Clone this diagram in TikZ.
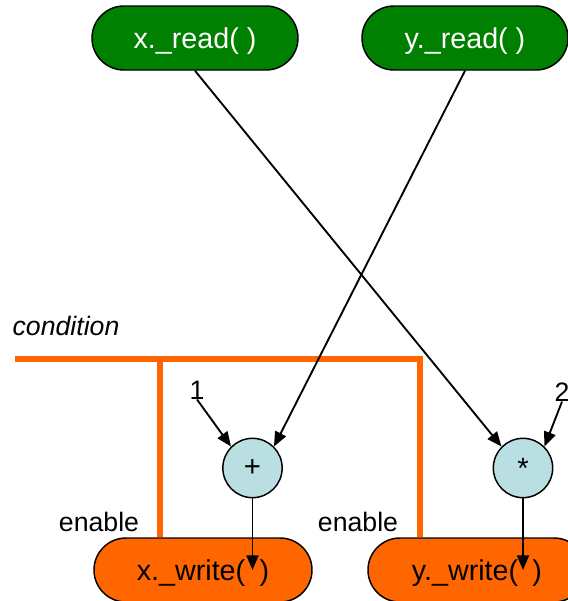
\documentclass[tikz,border=0pt]{standalone}
\usepackage{fontspec}
\setmainfont{Liberation Sans}
\usetikzlibrary{arrows.meta, positioning, calc}
\definecolor{readgreen}{HTML}{008000}
\definecolor{wrorange}{HTML}{FF6600}
\definecolor{opblue}{HTML}{B9DFE3}
\tikzset{
  readop/.style={rectangle, rounded corners=24pt, draw=black,
                 line width=1.1pt, fill=readgreen, text=white,
                 minimum width=154.5pt, minimum height=48pt, inner sep=0pt,
                 text depth=0pt, font=\fontsize{21.5}{24}\selectfont},
  writeop/.style={readop, fill=wrorange, text=black, minimum width=163.5pt},
  opnode/.style={circle, draw=black, line width=1.1pt, fill=opblue,
                 minimum size=44.5pt, inner sep=0pt,
                 font=\fontsize{22}{24}\selectfont},
  arrow/.style={-{Triangle[length=11pt,width=9pt]}, line width=1.4pt},
  enableline/.style={draw=wrorange, line width=5.2pt},
}

\begin{document}
\begin{tikzpicture}[
  x=0.75pt, y=-0.75pt,
  lbl/.style={font=\fontsize{20}{22}\selectfont, inner sep=0pt},
]
  \useasboundingbox (0,0) rectangle (568,601);

  %% Row 1: read operations
  \node[readop] (xr) at (195,38) {x.\_read( )};
  \node[readop] (yr) at (465,38) {y.\_read( )};

  %% Row 2: operators and their constants
  \node[opnode] (add) at (252.5,468) {+};
  \node[opnode] (mul) at (523,468) {*};
  \node[lbl] (one) at (197,390) {1};
  \node[lbl] (two) at (562,392) {2};

  %% Row 3: write operations
  \node[writeop] (xw) at (203,570) {x.\_write(\hspace{0.5em})};
  \node[writeop] (yw) at (477,570) {y.\_write(\hspace{0.5em})};

  %% Condition bus with its enable taps
  \node[lbl, font=\fontsize{20}{22}\selectfont\itshape] (cond) at (66,326) {condition};
  \coordinate (cstart) at (15,359);
  \coordinate (en1) at (160,359);
  \coordinate (en2) at (420,359);
  \draw[enableline] (cstart) -- (en2) -- (en2 |- yw.north);
  \draw[enableline] (en1) -- (en1 |- xw.north);
  \node[lbl] (xen) at (99,522) {enable};
  \node[lbl] (yen) at (358,522) {enable};

  %% Data flow (crossing)
  \draw[arrow] (xr.south) -- (mul.135);
  \draw[arrow] (yr.south) -- (add.45);
  \draw[arrow] (one.south) -- (add.135);
  \draw[arrow] (two.south) -- (mul.45);
  \draw[arrow] (add) -- (add |- xw.center);
  \draw[arrow] (mul) -- (mul |- yw.center);

\end{tikzpicture}
\end{document}
